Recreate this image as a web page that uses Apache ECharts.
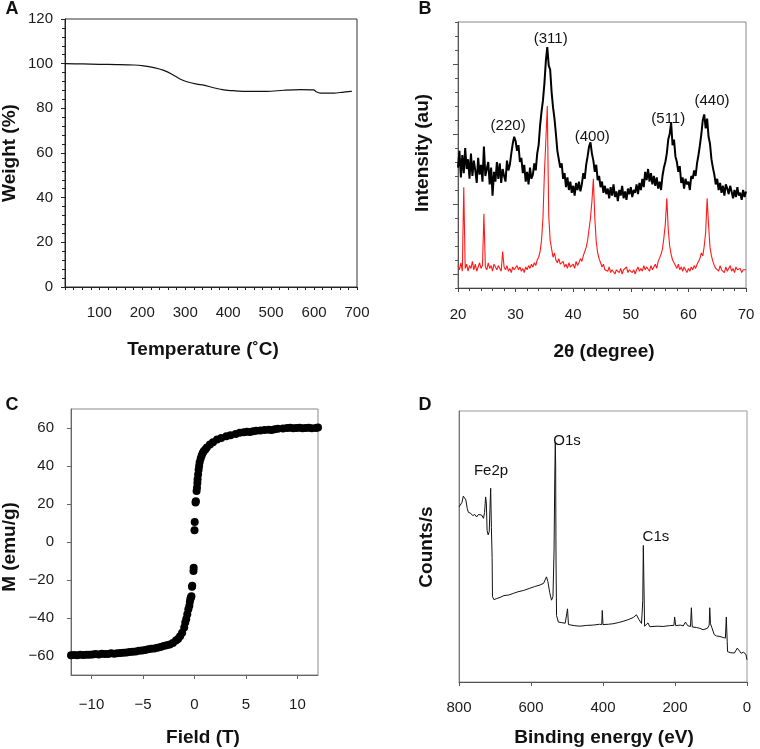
<!DOCTYPE html>
<html lang="en">
<head>
<meta charset="UTF-8" />
<title>Characterisation panels</title>
<script src="https://cdn.jsdelivr.net/npm/echarts@6/dist/echarts.min.js"></script>
<style>body { margin: 0; background: #fff; }</style>
</head>
<body>
<div id="main" style="width: 760px; height: 749px"></div>
<script type="text/javascript">
// ---- A: TGA ----
const tgaTemp = [20, 60, 100, 140, 180, 203, 227, 250, 269, 289, 304, 327, 343, 366, 390, 413, 444, 490, 529, 568, 599, 605, 615, 646, 669, 688];
const tgaWeight = [100, 99.9, 99.7, 99.6, 99.4, 99.0, 98.2, 97.0, 95.3, 93.0, 91.9, 90.8, 90.4, 89.2, 88.3, 87.9, 87.6, 87.6, 88.1, 88.4, 88.3, 87.4, 86.8, 86.8, 87.3, 87.6];

// ---- B: XRD, scan 20-70 deg in 0.25 deg steps ----
const xrdStart = 20;
const xrdStep = 0.25;
const xrdSample = [
  8.6, 9.8, 7.9, 9.5,   8.2, 10.0, 8.5, 9.2,   7.8, 9.6, 8.0, 9.1,   8.4, 7.5, 9.3, 8.1,
  8.8, 7.6, 10.1, 8.0,  7.9, 9.0, 7.4, 8.6,    6.6, 8.3, 7.6, 9.0,   7.8, 8.9, 7.5, 8.5,
  8.0, 7.6, 9.1, 8.4,   8.8, 9.6, 10.3, 10.8,  10.5, 9.8, 10.2, 9.0, 9.3, 8.2, 8.8, 7.6,
  8.3, 7.4, 8.6, 7.8,   8.1, 8.9, 8.4, 9.6,    10.2, 11.6, 12.6, 13.4, 14.6, 16.2, 17.2, 15.9,
  15.6, 14.0, 12.9, 12.1, 11.0, 9.8, 9.9, 8.6, 8.9, 7.8, 8.2, 7.2,  7.9, 7.0, 7.6, 6.8,
  7.3, 6.6, 7.5, 7.0,   7.6, 6.9, 7.4, 8.2,    7.8, 8.8, 9.4, 10.1,  10.4, 9.6, 9.1, 8.3,
  8.8, 7.7, 8.0, 7.2,   7.6, 6.8, 7.3, 6.7,    7.1, 6.4, 7.2, 6.6,   7.4, 6.5, 6.9, 6.2,
  7.0, 6.6, 7.3, 6.4,   6.9, 6.3, 7.1, 6.7,    7.2, 6.5, 7.0, 6.8,   7.4, 6.7, 7.5, 7.0,
  7.8, 7.2, 8.3, 7.7,   8.5, 7.6, 8.2, 7.4,    8.0, 7.3, 7.9, 7.1,   7.6, 7.0, 8.0, 8.6,
  9.0, 9.6, 10.6, 11.0, 11.8, 10.2, 10.6, 9.4, 9.0, 8.3, 8.7, 7.5,   7.9, 7.1, 7.8, 7.4,
  7.6, 7.0, 8.0, 7.8,   8.4, 8.0, 8.9, 9.5,    10.2, 11.0, 12.0, 12.4, 11.4, 12.1, 10.8, 10.3,
  9.2, 8.6, 8.1, 7.4,   7.8, 7.0, 7.5, 6.8,    7.3, 6.6, 7.4, 7.1,   6.7, 7.3, 6.9, 6.4,
  7.0, 6.5, 7.2, 6.6,   6.8, 6.3, 7.0, 6.5,
  6.9
];
const xrdReference = [
  1.6, 1.3, 1.8, 1.2,   7.2, 1.4, 1.7, 1.2,    1.6, 1.4, 1.9, 1.3,   1.7, 1.2, 1.5, 1.8,
  1.4, 1.6, 5.3, 1.5,   1.3, 1.8, 1.4, 1.6,    1.2, 1.7, 1.5, 1.3,   1.6, 1.4, 1.2, 2.6,
  1.5, 1.3, 1.6, 1.2,   1.4, 1.1, 1.5, 1.3,    1.2, 1.6, 1.3, 1.5,   1.2, 1.4, 1.1, 1.5,
  1.3, 1.6, 1.4, 1.7,   1.5, 1.8, 1.6, 2.0,    2.2, 2.6, 3.4, 5.0,   8.2, 10.5, 13.0, 5.2,
  3.4, 2.8, 2.2, 2.5,   2.0, 1.8, 2.1, 1.7,    1.6, 1.9, 1.5, 1.7,   1.4, 1.8, 1.5, 1.6,
  1.7, 1.4, 1.9, 1.6,   1.8, 2.1, 1.9, 2.3,    2.4, 2.9, 3.4, 4.2,   5.0, 6.2, 7.8, 5.0,
  3.3, 2.5, 2.1, 1.8,   1.5, 1.7, 1.3, 1.4,    1.2, 1.5, 1.1, 1.3,   1.4, 1.0, 1.3, 1.2,
  1.1, 1.4, 1.0, 1.3,   1.2, 1.5, 1.1, 1.3,    1.4, 1.1, 1.3, 1.0,   1.3, 1.5, 1.2, 1.4,
  1.2, 1.6, 1.3, 1.5,   1.4, 1.2, 1.6, 1.3,    1.5, 1.7, 1.4, 1.9,   2.0, 2.4, 2.8, 3.6,
  4.6, 6.4, 4.2, 3.0,   2.4, 2.0, 1.8, 1.6,    1.4, 1.7, 1.3, 1.5,   1.2, 1.5, 1.3, 1.1,
  1.4, 1.2, 1.5, 1.3,   1.6, 1.4, 1.7, 1.9,    2.1, 2.5, 2.3, 3.0,   4.0, 6.4, 4.5, 2.9,
  2.3, 1.9, 1.6, 1.4,   1.5, 1.2, 1.6, 1.3,    1.4, 1.1, 1.5, 1.2,   1.3, 1.6, 1.2, 1.4,
  1.1, 1.5, 1.3, 1.2,   1.4, 1.1, 1.3, 1.2,
  1.3
];
const xrdPeakNames = ['(220)', '(311)', '(400)', '(511)', '(440)'];
const xrdPeakAngle = [28.7, 36.1, 43.3, 56.5, 64.1];
const xrdPeakLevel = [11.6, 17.8, 10.8, 12.1, 13.4];

// ---- C: magnetisation loop ----
const vsmField = [
  -12, -11.7, -11.4, -11.1, -10.8, -10.5, -10.2, -9.9, -9.6, -9.3, -9.0, -8.7, -8.4, -8.1, -7.8, -7.5, -7.2,
  -6.9, -6.6, -6.3, -6.0, -5.7, -5.4, -5.1, -4.8, -4.5, -4.2, -3.9, -3.6, -3.3, -3.0, -2.7, -2.4, -2.1,
  -1.8, -1.6, -1.4, -1.2, -1.0, -0.9, -0.8, -0.7, -0.6, -0.5, -0.45, -0.4, -0.35, -0.3, -0.24, -0.22, -0.1, -0.08,
  0.0, 0.02, 0.1, 0.13, 0.2, 0.24, 0.28, 0.3, 0.35, 0.4, 0.45, 0.5, 0.6, 0.7, 0.8, 0.9, 1.05, 1.2, 1.5,
  1.8, 2.2, 2.6, 3.1, 3.5, 4.0, 4.4, 4.8, 5.1, 5.4, 5.7, 6.0, 6.4, 6.8, 7.2, 7.5, 7.8, 8.1, 8.6, 9.0,
  9.3, 9.6, 9.9, 10.2, 10.5, 10.8, 11.1, 11.4, 11.8, 12.0
];
const vsmMoment = [
  -59.6, -59.5, -59.6, -59.4, -59.5, -59.3, -59.4, -59.2, -59.0, -59.2, -58.8, -59.0, -58.9, -58.6, -58.8, -58.5, -58.4,
  -58.3, -58.2, -57.9, -57.8, -57.6, -57.3, -57.1, -56.8, -56.5, -56.2, -56.0, -55.6, -55.2, -54.7, -54.4, -53.9, -53.2,
  -51.8, -51.0, -49.6, -47.7, -45.0, -42.4, -40.5, -38.0, -35.4, -33.5, -31.5, -30.0, -29.2, -28.6, -23.6, -23.0, -15.3, -13.5,
  6.2, 10.5, 20.8, 21.5, 26.8, 28.5, 31.0, 33.0, 35.5, 38.0, 40.0, 42.0, 44.0, 45.5, 46.8, 47.8, 48.7, 49.8, 51.3,
  52.5, 54.0, 54.8, 55.7, 56.2, 56.9, 57.5, 57.7, 58.0, 57.9, 58.3, 58.5, 58.7, 58.9, 59.1, 59.0, 59.4, 59.6, 59.8, 60.0,
  60.1, 59.9, 60.0, 60.1, 59.9, 60.0, 60.1, 59.9, 60.0, 60.2
];

// ---- D: XPS survey ----
const xpsEnergy = [
  800, 796, 792, 788, 785, 781, 777, 774, 768, 762, 756, 751, 746, 742, 737, 732, 729, 726, 724, 722,
  719, 716, 714, 712, 710, 708, 707, 703, 695, 686, 675, 662, 649, 636, 620, 603, 590, 575, 565, 557,
  553, 548, 543, 539, 536, 534, 532.5, 531.5, 530.5, 529, 524, 515, 505, 500, 498.5, 496, 480, 464, 445, 427,
  410, 403.5, 402, 400, 385, 372, 358, 344, 330, 316, 307, 300, 293, 289.5, 288, 286.5, 284.5, 279, 275, 270,
  250, 233, 215, 203, 201, 198, 185, 177, 171, 165, 157, 154.5, 152, 140, 131, 122, 117, 110, 105, 103.5,
  101.5, 98, 94, 91, 85, 75, 66, 60, 57.5, 55, 54, 45, 35, 27, 22, 16, 10, 6, 3, 0
];
const xpsCounts = [
  64.6, 65.3, 66.2, 68.6, 69.3, 67.2, 64.0, 62.6, 62.3, 61.4, 61.8, 60.9, 61.8, 61.2, 61.6, 60.4, 62.5, 68.3, 66.0, 56.0,
  54.3, 55.5, 64.0, 71.5, 57.0, 46.0, 31.5, 30.4, 30.8, 31.2, 31.9, 32.1, 32.7, 33.3, 33.8, 34.6, 35.2, 35.8, 36.4, 38.8,
  37.0, 33.0, 30.2, 31.5, 48.0, 75.0, 88.5, 80.0, 45.0, 24.5, 22.1, 21.9, 21.7, 21.6, 27.0, 21.2, 20.8, 20.6, 20.9, 21.0,
  21.3, 21.2, 26.4, 21.2, 21.3, 21.5, 21.9, 22.4, 23.0, 23.8, 24.8, 23.0, 21.6, 30.0, 50.4, 38.0, 20.6, 20.9, 21.8, 20.4,
  20.6, 20.5, 20.8, 20.9, 24.0, 20.8, 21.0, 20.7, 22.1, 20.8, 20.5, 27.4, 20.3, 20.1, 19.8, 19.3, 18.9, 19.8, 21.0, 27.4,
  21.5, 20.2, 20.6, 17.5, 17.0, 16.8, 16.4, 16.2, 24.0, 15.0, 11.2, 10.8, 10.7, 12.5, 11.8, 10.6, 11.0, 11.5, 10.2, 8.2
];
const xpsPeakNames = ['Fe2p', 'O1s', 'C1s'];
const xpsPeakEnergy = [711, 500, 253];
const xpsPeakLevel = [77.9, 89, 53.5];

const FONT = '"Liberation Sans", Arial, sans-serif';
const minus = (v) => String(v).replace('-', '\u2212');
const zip = (a, b) => a.map((v, i) => [v, b[i]]);

const xrdAngles = xrdSample.map((_, i) => xrdStart + i * xrdStep);

const tickLabel = { color: '#1a1a1a', fontSize: 15, fontFamily: FONT };
const peakLabel = {
  show: true, position: 'inside', formatter: (p) => p.name,
  color: '#111', fontSize: 15, fontFamily: FONT, opacity: 1, textBorderWidth: 0,
};

function frame(left, top, width, height, border) {
  return { left, top, width, height, show: true, borderColor: border, borderWidth: 1, backgroundColor: 'transparent' };
}

let myChart = echarts.init(document.getElementById('main'), null, { renderer: 'canvas' });

let options = {
  animation: false,
  textStyle: { fontFamily: FONT },
  grid: [
    frame(65, 19, 292, 268, '#333'),
    frame(458, 22, 288, 266, '#888'),
    frame(71, 409, 247, 266, '#888'),
    frame(459, 411, 288, 271, '#999'),
  ],
  xAxis: [
    {
      gridIndex: 0, type: 'value', min: 20, max: 700, interval: 20,
      axisLine: { lineStyle: { color: '#222' } },
      axisTick: { length: 3, lineStyle: { color: '#222' } },
      axisLabel: Object.assign({ margin: 18, formatter: (v) => (v % 100 === 0 ? v : '') }, tickLabel),
      splitLine: { show: false },
    },
    {
      gridIndex: 1, type: 'value', min: 20, max: 70, interval: 10,
      axisLine: { lineStyle: { color: '#444' } },
      axisTick: { length: 4, lineStyle: { color: '#444' } },
      minorTick: { show: true, splitNumber: 5, length: 3, lineStyle: { color: '#444' } },
      axisLabel: Object.assign({ margin: 19 }, tickLabel),
      splitLine: { show: false },
    },
    {
      gridIndex: 2, type: 'value', min: -12, max: 12,
      axisLine: { onZero: false, lineStyle: { color: '#666' } },
      axisTick: { length: 4, customValues: [-10, -5, 0, 5, 10], lineStyle: { color: '#666' } },
      axisLabel: Object.assign({ margin: 22, customValues: [-10, -5, 0, 5, 10], formatter: minus }, tickLabel),
      splitLine: { show: false },
    },
    {
      gridIndex: 3, type: 'value', min: 0, max: 800, interval: 200, inverse: true,
      axisLine: { onZero: false, lineStyle: { color: '#555' } },
      axisTick: { length: 4, lineStyle: { color: '#555' } },
      axisLabel: Object.assign({ margin: 18 }, tickLabel),
      splitLine: { show: false },
    },
  ],
  yAxis: [
    {
      gridIndex: 0, type: 'value', min: 0, max: 120, interval: 20,
      axisLine: { show: true, lineStyle: { color: '#222' } },
      axisTick: { show: true, length: 4, lineStyle: { color: '#222' } },
      minorTick: { show: true, splitNumber: 5, length: 3, lineStyle: { color: '#222' } },
      axisLabel: Object.assign({ margin: 12 }, tickLabel),
      splitLine: { show: false },
    },
    {
      gridIndex: 1, type: 'value', min: 0, max: 19, interval: 1,
      axisLine: { show: true, lineStyle: { color: '#555' } },
      axisTick: { show: true, length: 3, lineStyle: { color: '#555' } },
      axisLabel: { show: false },
      splitLine: { show: false },
    },
    {
      // longer ticks of panel B on top of the short ones
      gridIndex: 1, type: 'value', min: 0, max: 19, position: 'left', offset: 0,
      axisLine: { show: false },
      axisTick: { show: true, length: 5, customValues: [1, 6, 11, 16], lineStyle: { color: '#555' } },
      axisLabel: { show: false },
      splitLine: { show: false },
    },
    {
      gridIndex: 2, type: 'value', min: -70, max: 70,
      axisLine: { show: true, onZero: false, lineStyle: { color: '#666' } },
      axisTick: { show: true, length: 4, customValues: [-60, -40, -20, 0, 20, 40, 60], lineStyle: { color: '#666' } },
      axisLabel: Object.assign({ margin: 17, customValues: [-60, -40, -20, 0, 20, 40, 60], formatter: minus }, tickLabel),
      splitLine: { show: false },
    },
    {
      gridIndex: 3, type: 'value', min: 0, max: 100,
      axisLine: { show: true, onZero: false, lineStyle: { color: '#777' } },
      axisTick: { show: false },
      axisLabel: { show: false },
      splitLine: { show: false },
    },
  ],
  series: [
    {
      name: 'TGA', type: 'line', xAxisIndex: 0, yAxisIndex: 0,
      data: zip(tgaTemp, tgaWeight), symbol: 'none', smooth: 0.3,
      lineStyle: { color: '#111', width: 1.2 },
    },
    {
      name: 'Sample', type: 'line', xAxisIndex: 1, yAxisIndex: 1,
      data: zip(xrdAngles, xrdSample), symbol: 'none',
      lineStyle: { color: '#000', width: 2 },
    },
    {
      name: 'Reference', type: 'line', xAxisIndex: 1, yAxisIndex: 1,
      data: zip(xrdAngles, xrdReference), symbol: 'none',
      lineStyle: { color: '#ff1a1a', width: 1.1 },
    },
    {
      name: 'XRD peaks', type: 'scatter', xAxisIndex: 1, yAxisIndex: 1,
      symbolSize: 1, itemStyle: { color: 'rgba(0,0,0,0)', opacity: 1 }, silent: true, z: 5,
      label: peakLabel,
      data: xrdPeakNames.map((n, i) => ({ name: n, value: [xrdPeakAngle[i], xrdPeakLevel[i]] })),
    },
    {
      name: 'M', type: 'scatter', xAxisIndex: 2, yAxisIndex: 3,
      data: zip(vsmField, vsmMoment), symbol: 'circle', symbolSize: 8,
      itemStyle: { color: '#000', opacity: 1 },
    },
    {
      name: 'XPS', type: 'line', xAxisIndex: 3, yAxisIndex: 4,
      data: zip(xpsEnergy, xpsCounts), symbol: 'none',
      lineStyle: { color: '#111', width: 1 },
    },
    {
      name: 'XPS peaks', type: 'scatter', xAxisIndex: 3, yAxisIndex: 4,
      symbolSize: 1, itemStyle: { color: 'rgba(0,0,0,0)', opacity: 1 }, silent: true, z: 5,
      label: peakLabel,
      data: xpsPeakNames.map((n, i) => ({ name: n, value: [xpsPeakEnergy[i], xpsPeakLevel[i]] })),
    },
  ],
  graphic: [],
};

// panel letters and axis titles
const letters = [['A', 12, 9], ['B', 425, 9], ['C', 12, 405], ['D', 425, 405]];
for (const [t, x, y] of letters) {
  options.graphic.push({ type: 'text', x, y, style: { text: t, font: 'bold 18px ' + FONT, fill: '#111', align: 'center', verticalAlign: 'middle' } });
}
const titles = [
  ['Temperature (\u02daC)', 203, 350, 0],
  ['Weight (%)', 10, 153, 1],
  ['2\u03b8 (degree)', 604, 352, 0],
  ['Intensity (au)', 423, 153, 1],
  ['Field (T)', 203, 738, 0],
  ['M (emu/g)', 10, 547, 1],
  ['Binding energy (eV)', 604, 738, 0],
  ['Counts/s', 427, 547, 1],
];
for (const [t, x, y, rot] of titles) {
  options.graphic.push({
    type: 'text', x, y, rotation: rot ? Math.PI / 2 : 0,
    style: { text: t, font: 'bold 19px ' + FONT, fill: '#111', align: 'center', verticalAlign: 'middle' },
  });
}

myChart.setOption(options);
</script>
</body>
</html>
